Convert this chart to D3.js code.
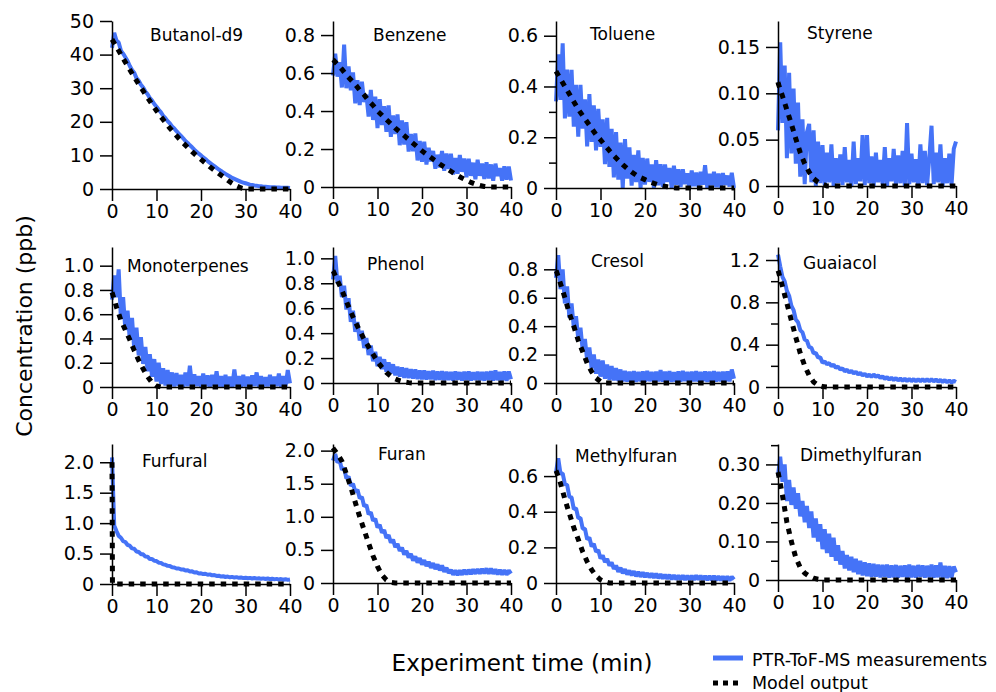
<!DOCTYPE html>
<html>
<head>
<meta charset="utf-8">
<script src="https://cdn.jsdelivr.net/npm/d3@7"></script>
<style>
  html, body { margin: 0; padding: 0; background: #fff; }
  svg { display: block; font-family: "DejaVu Sans", sans-serif; }
  .axis path, .axis line { stroke: #000; stroke-width: 1.5; }
  .axis text { font-family: "DejaVu Sans", sans-serif; font-size: 19px; fill: #000; }
</style>
</head>
<body>
<svg id="chart" width="996" height="692"></svg>
<script>
// ---------------------------------------------------------------
// Data: chamber decay of VOCs, PTR-ToF-MS measurement vs. model
// ---------------------------------------------------------------
const compounds = ["Butanol-d9", "Benzene", "Toluene", "Styrene",
                   "Monoterpenes", "Phenol", "Cresol", "Guaiacol",
                   "Furfural", "Furan", "Methylfuran", "Dimethylfuran"];

// measurement sampling (every 0.5 min, 0–40 min)
const measTime = d3.range(0, 40.001, 0.5);
// model output sampling
const modelTime = [0, 0.1, 1, 2, 3, 4, 5, 6, 7, 8, 9, 10, 11, 12, 13, 14, 15, 16, 17, 18, 19, 20,
                   21, 22, 23, 24, 25, 26, 27, 28, 29, 30, 31, 32, 33, 34, 35, 36, 37, 38, 39, 40];

const xTickValues = [0, 10, 20, 30, 40];
const xTickLabels = ["0", "10", "20", "30", "40"];

const yMax = [50, 0.874, 0.658, 0.178, 1.154, 1.091, 0.957, 1.323, 2.30, 2.10, 0.78, 0.353];

const yTickValues = [
  [0, 10, 20, 30, 40, 50], [0, 0.2, 0.4, 0.6, 0.8], [0, 0.2, 0.4, 0.6], [0, 0.05, 0.10, 0.15],
  [0, 0.2, 0.4, 0.6, 0.8, 1.0], [0, 0.2, 0.4, 0.6, 0.8, 1.0], [0, 0.2, 0.4, 0.6, 0.8], [0, 0.4, 0.8, 1.2],
  [0, 0.5, 1.0, 1.5, 2.0], [0, 0.5, 1.0, 1.5, 2.0], [0, 0.2, 0.4, 0.6], [0, 0.10, 0.20, 0.30]
];
const yTickLabels = [
  ["0", "10", "20", "30", "40", "50"], ["0", "0.2", "0.4", "0.6", "0.8"], ["0", "0.2", "0.4", "0.6"], ["0", "0.05", "0.10", "0.15"],
  ["0", "0.2", "0.4", "0.6", "0.8", "1.0"], ["0", "0.2", "0.4", "0.6", "0.8", "1.0"], ["0", "0.2", "0.4", "0.6", "0.8"], ["0", "0.4", "0.8", "1.2"],
  ["0", "0.5", "1.0", "1.5", "2.0"], ["0", "0.5", "1.0", "1.5", "2.0"], ["0", "0.2", "0.4", "0.6"], ["0", "0.10", "0.20", "0.30"]
];
const yMinorTicks = [
  [], [], [0.1, 0.3, 0.5], [],
  [], [], [], [0.2, 0.6, 1.0],
  [], [], [], [0.05, 0.15, 0.25, 0.35]
];

// --- PTR-ToF-MS measurements (ppb), one value per 0.5 min ---
const butanolMeas = [
  42.0, 46.5, 44.2, 43.6, 41.2, 40.3, 39.2, 38.1, 36.6, 35.4,
  34.6, 33.0, 32.2, 31.0, 30.2, 29.0, 28.2, 27.1, 26.3, 25.3,
  24.5, 23.6, 22.8, 21.8, 21.1, 20.2, 19.5, 18.6, 18.0, 17.2,
  16.5, 15.8, 15.1, 14.3, 13.7, 13.0, 12.4, 11.7, 11.1, 10.5,
  10.0, 9.4, 8.9, 8.3, 7.8, 7.3, 6.8, 6.3, 5.8, 5.4,
  4.9, 4.5, 4.1, 3.7, 3.3, 3.0, 2.7, 2.4, 2.1, 1.9,
  1.7, 1.5, 1.3, 1.2, 1.05, 0.95, 0.85, 0.8, 0.7, 0.65,
  0.6, 0.55, 0.5, 0.5, 0.45, 0.45, 0.4, 0.4, 0.35, 0.35,
  0.3
];
const benzeneMeas = [
  0.587, 0.702, 0.581, 0.657, 0.524, 0.75, 0.52, 0.635, 0.509, 0.604,
  0.44, 0.563, 0.431, 0.554, 0.448, 0.486, 0.371, 0.511, 0.353, 0.476,
  0.31, 0.462, 0.326, 0.425, 0.291, 0.43, 0.264, 0.377, 0.279, 0.382,
  0.22, 0.351, 0.223, 0.341, 0.187, 0.279, 0.188, 0.282, 0.14, 0.243,
  0.133, 0.239, 0.118, 0.206, 0.135, 0.19, 0.096, 0.17, 0.103, 0.19,
  0.086, 0.176, 0.095, 0.175, 0.066, 0.152, 0.07, 0.168, 0.08, 0.15,
  0.051, 0.149, 0.059, 0.128, 0.041, 0.144, 0.059, 0.123, 0.042, 0.13,
  0.045, 0.119, 0.033, 0.123, 0.058, 0.1, 0.033, 0.109, 0.039, 0.108,
  0.034
];
const tolueneMeas = [
  0.341, 0.527, 0.347, 0.57, 0.274, 0.467, 0.281, 0.466, 0.242, 0.406,
  0.202, 0.406, 0.234, 0.349, 0.164, 0.37, 0.182, 0.326, 0.148, 0.312,
  0.162, 0.27, 0.094, 0.276, 0.083, 0.233, 0.042, 0.22, 0.033, 0.179,
  0, 0.193, 0.037, 0.16, 0.009, 0.13, 0.023, 0.148, 0, 0.119,
  0.013, 0.116, 0.024, 0.093, 0, 0.11, 0.011, 0.094, 0.005, 0.093,
  0.024, 0.079, 0, 0.088, 0.013, 0.074, 0.004, 0.074, 0.015, 0.058,
  0, 0.069, 0.007, 0.061, 0.003, 0.064, 0.013, 0.09, 0, 0.056,
  0.01, 0.064, 0.003, 0.057, 0, 0.059, 0.012, 0.049, 0.006, 0.06,
  0
];
const styreneMeas = [
  0.06, 0.155, 0.068, 0.13, 0.03, 0.122, 0.035, 0.105, 0.024, 0.09,
  0.01, 0.072, 0.002, 0.058, 0.067, 0.004, 0.06, 0, 0.048, 0.003,
  0.044, 0.001, 0.036, 0.004, 0.045, 0, 0.03, 0.003, 0.034, 0.001,
  0.042, 0.004, 0.028, 0, 0.048, 0.002, 0.03, 0.005, 0.055, 0.001,
  0.055, 0.003, 0.032, 0, 0.036, 0.004, 0.028, 0.002, 0.042, 0,
  0.03, 0.005, 0.04, 0.001, 0.033, 0.003, 0.038, 0, 0.068, 0.002,
  0.035, 0.004, 0.029, 0, 0.045, 0.003, 0.038, 0.001, 0.03, 0.065,
  0.002, 0.036, 0.004, 0.045, 0, 0.03, 0.003, 0.035, 0.001, 0.04,
  0.048
];
const monoterpMeas = [
  0.72, 0.92, 0.74, 0.97, 0.56, 0.74, 0.47, 0.63, 0.39, 0.57,
  0.31, 0.49, 0.26, 0.41, 0.19, 0.33, 0.13, 0.27, 0.085, 0.23,
  0.045, 0.2, 0.025, 0.155, 0.012, 0.14, 0.008, 0.12, 0.004, 0.115,
  0.01, 0.1, 0.002, 0.12, 0.006, 0.175, 0.003, 0.105, 0.008, 0.09,
  0, 0.11, 0.006, 0.095, 0.002, 0.1, 0.01, 0.13, 0.004, 0.09,
  0, 0.1, 0.007, 0.085, 0.003, 0.145, 0.005, 0.09, 0, 0.1,
  0.006, 0.085, 0.002, 0.095, 0.008, 0.12, 0, 0.09, 0.004, 0.08,
  0.006, 0.1, 0.002, 0.085, 0.007, 0.11, 0, 0.09, 0.005, 0.14,
  0.03
];
const phenolMeas = [
  0.83, 1.02, 0.8, 0.86, 0.69, 0.78, 0.59, 0.68, 0.49, 0.58,
  0.41, 0.49, 0.34, 0.42, 0.28, 0.36, 0.225, 0.3, 0.175, 0.25,
  0.135, 0.21, 0.112, 0.19, 0.092, 0.165, 0.078, 0.15, 0.062, 0.13,
  0.052, 0.125, 0.042, 0.118, 0.04, 0.11, 0.036, 0.108, 0.032, 0.1,
  0.03, 0.1, 0.028, 0.095, 0.03, 0.098, 0.024, 0.092, 0.027, 0.094,
  0.022, 0.09, 0.025, 0.088, 0.02, 0.093, 0.026, 0.087, 0.021, 0.09,
  0.024, 0.092, 0.02, 0.086, 0.025, 0.091, 0.022, 0.088, 0.019, 0.09,
  0.024, 0.094, 0.02, 0.1, 0.023, 0.089, 0.021, 0.093, 0.018, 0.092,
  0.03
];
const cresolMeas = [
  0.74, 0.9, 0.66, 0.8, 0.56, 0.68, 0.46, 0.56, 0.39, 0.47,
  0.31, 0.39, 0.23, 0.31, 0.16, 0.25, 0.105, 0.2, 0.065, 0.165,
  0.045, 0.158, 0.03, 0.13, 0.022, 0.12, 0.018, 0.105, 0.015, 0.095,
  0.012, 0.085, 0.01, 0.08, 0.014, 0.083, 0.008, 0.078, 0.012, 0.082,
  0.01, 0.085, 0.013, 0.077, 0.009, 0.08, 0.012, 0.09, 0.01, 0.079,
  0.014, 0.083, 0.008, 0.076, 0.011, 0.082, 0.01, 0.085, 0.013, 0.078,
  0.009, 0.08, 0.012, 0.084, 0.01, 0.077, 0.013, 0.081, 0.009, 0.079,
  0.011, 0.083, 0.01, 0.078, 0.012, 0.08, 0.009, 0.082, 0.011, 0.095,
  0.03
];
const guaiacolMeas = [
  1.25, 1.14, 1.04, 0.997, 0.908, 0.862, 0.768, 0.727, 0.638, 0.612,
  0.538, 0.517, 0.448, 0.437, 0.378, 0.372, 0.318, 0.322, 0.278, 0.282,
  0.23, 0.242, 0.214, 0.226, 0.198, 0.21, 0.182, 0.193, 0.165, 0.176,
  0.148, 0.163, 0.138, 0.153, 0.128, 0.144, 0.119, 0.134, 0.11, 0.125,
  0.1, 0.118, 0.096, 0.118, 0.097, 0.11, 0.085, 0.101, 0.077, 0.093,
  0.07, 0.088, 0.066, 0.084, 0.062, 0.08, 0.059, 0.078, 0.057, 0.076,
  0.055, 0.075, 0.054, 0.074, 0.054, 0.074, 0.053, 0.073, 0.053, 0.073,
  0.053, 0.071, 0.05, 0.068, 0.047, 0.065, 0.044, 0.062, 0.041, 0.059,
  0.048
];
const furfuralMeas = [
  2.08, 0.96, 0.87, 0.79, 0.76, 0.705, 0.69, 0.64, 0.63, 0.585,
  0.578, 0.535, 0.527, 0.49, 0.487, 0.45, 0.448, 0.41, 0.412, 0.38,
  0.377, 0.35, 0.347, 0.322, 0.316, 0.298, 0.297, 0.275, 0.272, 0.255,
  0.255, 0.24, 0.24, 0.222, 0.225, 0.206, 0.208, 0.19, 0.193, 0.174,
  0.176, 0.163, 0.168, 0.152, 0.158, 0.142, 0.147, 0.133, 0.137, 0.122,
  0.127, 0.115, 0.122, 0.11, 0.117, 0.106, 0.113, 0.102, 0.108, 0.097,
  0.104, 0.094, 0.101, 0.091, 0.098, 0.088, 0.095, 0.085, 0.092, 0.082,
  0.09, 0.079, 0.087, 0.076, 0.084, 0.073, 0.081, 0.07, 0.079, 0.068,
  0.074
];
const furanMeas = [
  1.85, 1.95, 1.82, 1.85, 1.71, 1.74, 1.58, 1.61, 1.47, 1.5,
  1.38, 1.41, 1.28, 1.3, 1.16, 1.18, 1.04, 1.07, 0.94, 0.97,
  0.84, 0.88, 0.76, 0.80, 0.68, 0.725, 0.61, 0.655, 0.54, 0.59,
  0.485, 0.535, 0.43, 0.485, 0.385, 0.44, 0.34, 0.4, 0.31, 0.375,
  0.28, 0.345, 0.255, 0.32, 0.23, 0.3, 0.21, 0.28, 0.19, 0.265,
  0.17, 0.23, 0.15, 0.2, 0.125, 0.19, 0.12, 0.19, 0.125, 0.2,
  0.13, 0.2, 0.135, 0.205, 0.14, 0.21, 0.14, 0.215, 0.145, 0.22,
  0.14, 0.22, 0.14, 0.205, 0.13, 0.2, 0.125, 0.195, 0.125, 0.19,
  0.14
];
const methylfuranMeas = [
  0.62, 0.70, 0.615, 0.615, 0.555, 0.55, 0.485, 0.48, 0.415, 0.42,
  0.365, 0.365, 0.305, 0.305, 0.245, 0.255, 0.205, 0.22, 0.175, 0.185,
  0.137, 0.155, 0.117, 0.135, 0.097, 0.116, 0.079, 0.098, 0.063, 0.085,
  0.055, 0.077, 0.048, 0.07, 0.043, 0.066, 0.038, 0.062, 0.035, 0.059,
  0.033, 0.056, 0.031, 0.054, 0.029, 0.052, 0.027, 0.05, 0.025, 0.047,
  0.023, 0.046, 0.021, 0.044, 0.02, 0.043, 0.019, 0.042, 0.018, 0.041,
  0.018, 0.041, 0.018, 0.042, 0.019, 0.041, 0.018, 0.04, 0.017, 0.04,
  0.017, 0.039, 0.016, 0.038, 0.015, 0.037, 0.014, 0.036, 0.014, 0.035,
  0.02
];
const dimethylfuranMeas = [
  0.27, 0.32, 0.255, 0.3, 0.205, 0.26, 0.195, 0.24, 0.185, 0.225,
  0.165, 0.205, 0.15, 0.192, 0.135, 0.178, 0.11, 0.16, 0.1, 0.145,
  0.08, 0.132, 0.07, 0.12, 0.06, 0.11, 0.05, 0.09, 0.04, 0.075,
  0.03, 0.065, 0.025, 0.06, 0.02, 0.055, 0.015, 0.05, 0.012, 0.046,
  0.01, 0.043, 0.008, 0.042, 0.009, 0.04, 0.007, 0.039, 0.008, 0.04,
  0.006, 0.038, 0.007, 0.039, 0.006, 0.037, 0.008, 0.038, 0.006, 0.04,
  0.007, 0.037, 0.006, 0.039, 0.008, 0.038, 0.006, 0.037, 0.007, 0.04,
  0.006, 0.038, 0.007, 0.045, 0.006, 0.037, 0.005, 0.036, 0.006, 0.035,
  0.02
];

// --- Model output (ppb) at modelTime ---
const butanolModel = [44.5, 44.3, 42.3, 40, 37.7, 35.5, 33.3, 31.2, 29.2, 27.2, 25.2, 23.3, 21.5, 19.8, 18.1, 16.6,
  15.1, 13.7, 12.4, 11.1, 9.9, 8.8, 7.7, 6.6, 5.6, 4.6, 3.6, 2.6, 1.7, 0.9, 0.3, 0, 0, 0, 0, 0, 0, 0, 0, 0, 0, 0];
const benzeneModel = [0.67, 0.668, 0.645, 0.62, 0.59, 0.565, 0.54, 0.51, 0.485, 0.455, 0.43, 0.40, 0.378, 0.355,
  0.333, 0.31, 0.29, 0.27, 0.25, 0.23, 0.21, 0.19, 0.172, 0.155, 0.138, 0.121, 0.105, 0.09, 0.075, 0.06, 0.047,
  0.035, 0.024, 0.015, 0.008, 0.003, 0, 0, 0, 0, 0, 0];
const tolueneModel = [0.46, 0.457, 0.43, 0.40, 0.37, 0.34, 0.31, 0.285, 0.26, 0.235, 0.21, 0.19, 0.168, 0.147,
  0.127, 0.109, 0.092, 0.077, 0.063, 0.051, 0.041, 0.033, 0.025, 0.018, 0.012, 0.008, 0.005, 0.002,
  0, 0, 0, 0, 0, 0, 0, 0, 0, 0, 0, 0, 0, 0];
const styreneModel = [0.112, 0.11, 0.097, 0.082, 0.067, 0.051, 0.036, 0.024, 0.015, 0.008, 0.004, 0.002,
  0, 0, 0, 0, 0, 0, 0, 0, 0, 0, 0, 0, 0, 0, 0, 0, 0, 0, 0, 0, 0, 0, 0, 0, 0, 0, 0, 0, 0, 0];
const monoterpModel = [0.78, 0.77, 0.66, 0.55, 0.47, 0.39, 0.30, 0.22, 0.15, 0.085, 0.035, 0.008,
  0, 0, 0, 0, 0, 0, 0, 0, 0, 0, 0, 0, 0, 0, 0, 0, 0, 0, 0, 0, 0, 0, 0, 0, 0, 0, 0, 0, 0, 0];
const phenolModel = [0.90, 0.895, 0.82, 0.745, 0.655, 0.57, 0.49, 0.42, 0.35, 0.29, 0.23, 0.17, 0.125, 0.085,
  0.055, 0.033, 0.018, 0.008, 0.003, 0, 0, 0, 0, 0, 0, 0, 0, 0, 0, 0, 0, 0, 0, 0, 0, 0, 0, 0, 0, 0, 0, 0];
const cresolModel = [0.79, 0.785, 0.70, 0.60, 0.49, 0.40, 0.30, 0.22, 0.14, 0.08, 0.035, 0.01,
  0, 0, 0, 0, 0, 0, 0, 0, 0, 0, 0, 0, 0, 0, 0, 0, 0, 0, 0, 0, 0, 0, 0, 0, 0, 0, 0, 0, 0, 0];
const guaiacolModel = [1.10, 1.09, 0.95, 0.79, 0.63, 0.47, 0.32, 0.20, 0.11, 0.047, 0.016, 0.004,
  0, 0, 0, 0, 0, 0, 0, 0, 0, 0, 0, 0, 0, 0, 0, 0, 0, 0, 0, 0, 0, 0, 0, 0, 0, 0, 0, 0, 0, 0];
const furfuralModel = [2.0, 0, 0, 0, 0, 0, 0, 0, 0, 0, 0, 0, 0, 0, 0, 0, 0, 0, 0, 0, 0,
  0, 0, 0, 0, 0, 0, 0, 0, 0, 0, 0, 0, 0, 0, 0, 0, 0, 0, 0, 0, 0];
const furanModel = [2.04, 2.03, 1.95, 1.84, 1.65, 1.45, 1.22, 1.0, 0.80, 0.60, 0.41, 0.25, 0.12, 0.045, 0.01,
  0, 0, 0, 0, 0, 0, 0, 0, 0, 0, 0, 0, 0, 0, 0, 0, 0, 0, 0, 0, 0, 0, 0, 0, 0, 0, 0];
const methylfuranModel = [0.63, 0.625, 0.56, 0.47, 0.39, 0.31, 0.245, 0.175, 0.12, 0.075, 0.04, 0.018, 0.006,
  0, 0, 0, 0, 0, 0, 0, 0, 0, 0, 0, 0, 0, 0, 0, 0, 0, 0, 0, 0, 0, 0, 0, 0, 0, 0, 0, 0, 0];
const dimethylfuranModel = [0.28, 0.275, 0.22, 0.15, 0.10, 0.058, 0.032, 0.018, 0.01, 0.005, 0.002,
  0, 0, 0, 0, 0, 0, 0, 0, 0, 0, 0, 0, 0, 0, 0, 0, 0, 0, 0, 0, 0, 0, 0, 0, 0, 0, 0, 0, 0, 0, 0];

const measurements = [butanolMeas, benzeneMeas, tolueneMeas, styreneMeas,
  monoterpMeas, phenolMeas, cresolMeas, guaiacolMeas,
  furfuralMeas, furanMeas, methylfuranMeas, dimethylfuranMeas];
const models = [butanolModel, benzeneModel, tolueneModel, styreneModel,
  monoterpModel, phenolModel, cresolModel, guaiacolModel,
  furfuralModel, furanModel, methylfuranModel, dimethylfuranModel];

measurements.forEach((m, k) => { if (m.length !== measTime.length) throw new Error(compounds[k] + " meas length " + m.length); });
models.forEach((m, k) => { if (m.length !== modelTime.length) throw new Error(compounds[k] + " model length " + m.length); });

// ---------------------------------------------------------------
// Layout
// ---------------------------------------------------------------
const colX = [112, 333, 556, 778];          // y-axis position of each column
const plotW = 178;                           // 0–40 min span
const rowTop = [21, 247, 444];               // top of each y axis
const zeroY = [189, 187, 188, 186, 387, 383, 383, 387, 584, 583, 583, 580];
const titleDx = [38, 40, 34, 29, 15, 34, 35, 25, 30, 45, 19, 22];
const titleY = [40.5, 41, 40, 38.5, 271.5, 270, 267, 269, 467, 460, 461.5, 460.5];

const measColor = "#4573f7";

const svg = d3.select("#chart");

compounds.forEach((name, k) => {
  const col = k % 4, row = Math.floor(k / 4);
  const x0 = colX[col];
  const x = d3.scaleLinear().domain([0, 40]).range([x0, x0 + plotW]);
  const y = d3.scaleLinear().domain([0, yMax[k]]).range([zeroY[k], rowTop[row]]);
  const g = svg.append("g");

  // measurement trace
  g.append("path")
    .datum(measurements[k])
    .attr("fill", "none")
    .attr("stroke", measColor)
    .attr("stroke-width", 4)
    .attr("stroke-linejoin", "bevel")
    .attr("d", d3.line().x((d, i) => x(measTime[i])).y(d => y(d)));

  // model output (square-dotted)
  g.append("path")
    .datum(models[k])
    .attr("fill", "none")
    .attr("stroke", "#000")
    .attr("stroke-width", 5)
    .attr("stroke-dasharray", "5.5,6")
    .attr("d", d3.line().x((d, i) => x(modelTime[i])).y(d => y(d)));

  // x axis
  g.append("g")
    .attr("class", "axis")
    .attr("transform", `translate(0,${zeroY[k]})`)
    .call(d3.axisBottom(x).tickValues(xTickValues)
      .tickFormat((d, i) => xTickLabels[i])
      .tickSize(12).tickSizeOuter(0).tickPadding(4));

  // y axis (major)
  g.append("g")
    .attr("class", "axis")
    .attr("transform", `translate(${x0},0)`)
    .call(d3.axisLeft(y).tickValues(yTickValues[k])
      .tickFormat((d, i) => yTickLabels[k][i])
      .tickSize(12).tickSizeOuter(0).tickPadding(6));

  // y axis (minor)
  if (yMinorTicks[k].length) {
    const mg = g.append("g")
      .attr("class", "axis")
      .attr("transform", `translate(${x0},0)`)
      .call(d3.axisLeft(y).tickValues(yMinorTicks[k]).tickFormat("").tickSize(7).tickSizeOuter(0));
    mg.select(".domain").remove();
  }

  // compound name
  g.append("text")
    .attr("x", x0 + titleDx[k])
    .attr("y", titleY[k])
    .attr("font-size", 17)
    .attr("fill", "#000")
    .text(name);
});

// axis titles
svg.append("text")
  .attr("transform", "translate(32,326) rotate(-90)")
  .attr("text-anchor", "middle")
  .attr("font-size", 22)
  .text("Concentration (ppb)");

svg.append("text")
  .attr("x", 522)
  .attr("y", 671)
  .attr("text-anchor", "middle")
  .attr("font-size", 23)
  .text("Experiment time (min)");

// legend
const legend = svg.append("g");
legend.append("line")
  .attr("x1", 713).attr("x2", 743).attr("y1", 658).attr("y2", 658)
  .attr("stroke", measColor).attr("stroke-width", 5);
legend.append("text")
  .attr("x", 752).attr("y", 666)
  .attr("font-size", 17.5)
  .text("PTR-ToF-MS measurements");
legend.append("line")
  .attr("x1", 713).attr("x2", 743).attr("y1", 683).attr("y2", 683)
  .attr("stroke", "#000").attr("stroke-width", 5).attr("stroke-dasharray", "5,5");
legend.append("text")
  .attr("x", 752).attr("y", 689)
  .attr("font-size", 17.5)
  .text("Model output");
</script>
</body>
</html>
